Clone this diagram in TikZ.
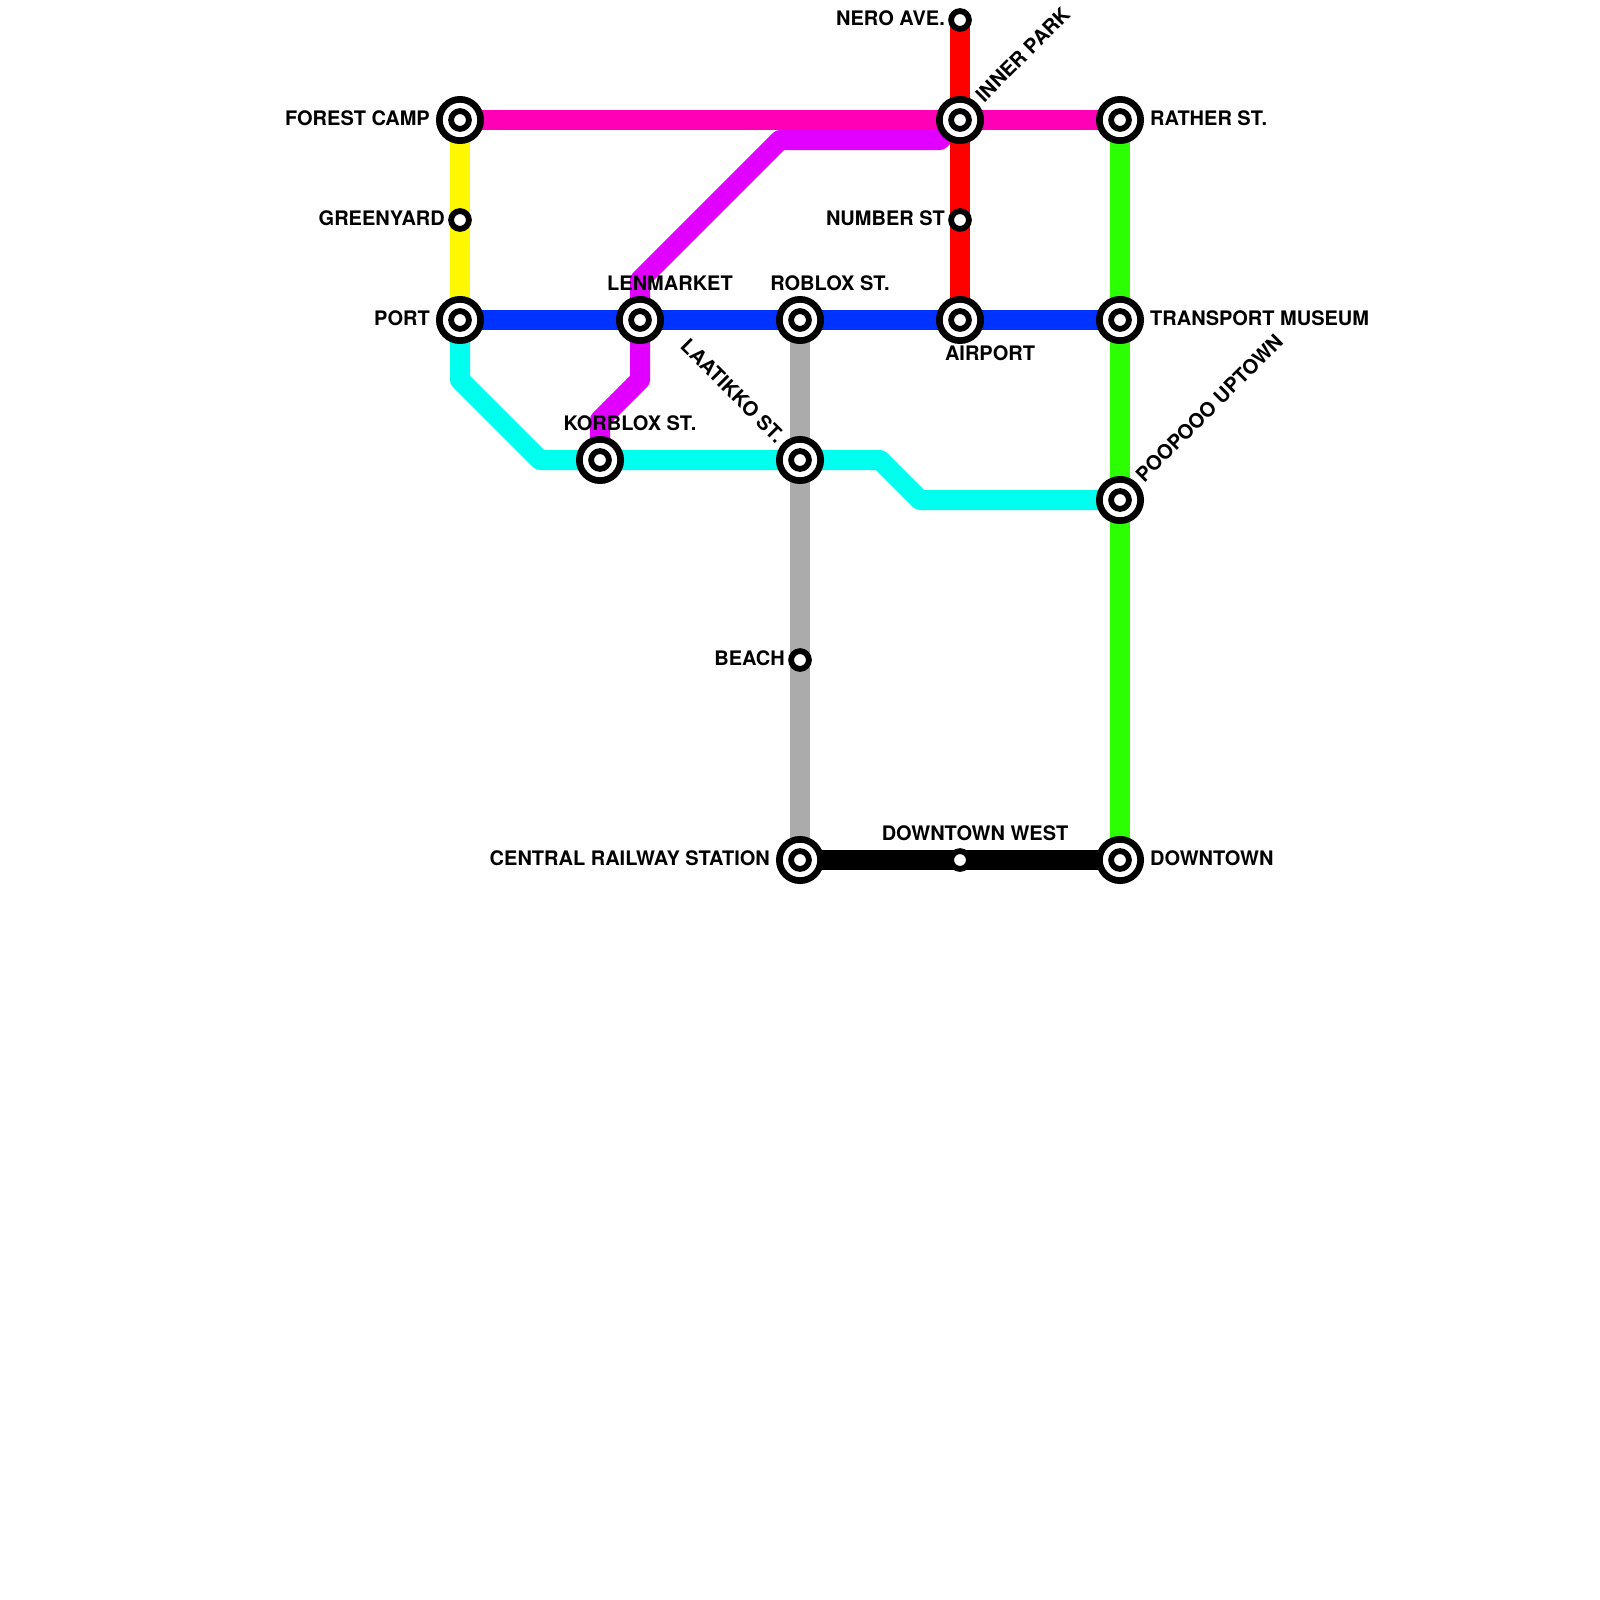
\documentclass[tikz,border=0pt]{standalone}
\usepackage{fontspec}
\setmainfont{TeX Gyre Heros}
\usetikzlibrary{backgrounds}
\definecolor{cpink}{RGB}{255,0,183}
\definecolor{cyellow}{RGB}{255,247,0}
\definecolor{cblue}{RGB}{0,51,255}
\definecolor{ccyan}{RGB}{0,255,238}
\definecolor{cmag}{RGB}{225,0,255}
\definecolor{cred}{RGB}{255,0,0}
\definecolor{cgrey}{RGB}{171,171,171}
\definecolor{cgreen}{RGB}{43,255,0}
\tikzset{
  ring/.style={circle,draw=black,fill=white,line width=6.7pt,minimum size=41.3pt,inner sep=0pt},
  hub/.style={circle,draw=black,fill=white,line width=5.8pt,minimum size=17.8pt,inner sep=0pt},
  rail/.style={line width=20pt,line join=round,line cap=butt},
  lbl/.style={font=\fontsize{20}{20}\selectfont\bfseries,inner sep=0pt,text=black},
}
\newcommand{\xchg}[2]{\node[ring] (#1) at (#2) {}; \node[hub] (#1i) at (#1.center) {};}
\begin{document}
\begin{tikzpicture}[x=1pt,y=-1pt]
\useasboundingbox (0,0) rectangle (1600,1600);
\xchg{fc}{460,120}
\xchg{ip}{960,120}
\xchg{rs}{1120,120}
\xchg{po}{460,320}
\xchg{le}{640,320}
\xchg{ro}{800,320}
\xchg{ai}{960,320}
\xchg{tm}{1120,320}
\xchg{ko}{600,460}
\xchg{la}{800,460}
\xchg{up}{1120,500}
\xchg{cr}{800,860}
\xchg{dt}{1120,860}
\node[hub] (ne) at (960,20) {};
\node[hub] (gy) at (460,220) {};
\node[hub] (nu) at (960,220) {};
\node[hub] (be) at (800,660) {};
\node[hub] (dw) at (960,860) {};
\node[lbl,anchor=east] (tfc) at (430,118) {FOREST CAMP};
\node[lbl,anchor=east] (tgy) at (445,218) {GREENYARD};
\node[lbl,anchor=east] (tpo) at (430,318) {PORT};
\node[lbl,anchor=east] (tne) at (945,18) {NERO AVE.};
\node[lbl,anchor=east] (tnu) at (945,218) {NUMBER ST};
\node[lbl,anchor=east] (tbe) at (785,658) {BEACH};
\node[lbl,anchor=east] (tcr) at (770,858) {CENTRAL RAILWAY STATION};
\node[lbl] (tle) at (670,283) {LENMARKET};
\node[lbl] (tro) at (830,283) {ROBLOX ST.};
\node[lbl] (tko) at (630,423) {KORBLOX ST.};
\node[lbl] (tai) at (990,353) {AIRPORT};
\node[lbl] (tdw) at (975,833) {DOWNTOWN WEST};
\node[lbl,anchor=west] (trs) at (1150,118) {RATHER ST.};
\node[lbl,anchor=west] (ttm) at (1150,318) {TRANSPORT MUSEUM};
\node[lbl,anchor=west] (tdt) at (1150,858) {DOWNTOWN};
\node[lbl,anchor=west,rotate=45] (tip) at (979,98) {INNER PARK};
\node[lbl,anchor=west,rotate=45] (tup) at (1139,478) {POOPOOO UPTOWN};
\node[lbl,anchor=east,rotate=-45] (tla) at (781,439) {LAATIKKO ST.};
\coordinate (c1) at (460,380);
\coordinate (c2) at (540,460);
\coordinate (c3) at (880,460);
\coordinate (c4) at (920,500);
\coordinate (m1) at (940,140);
\coordinate (m2) at (780,140);
\coordinate (m3) at (640,280);
\coordinate (m4) at (640,380);
\coordinate (m5) at (600,420);
\begin{scope}[on background layer]
\draw[rail,cmag] (ip.center) -- (m1) -- (m2) -- (m3) -- (le.center) -- (m4) -- (m5) -- (ko.center);
\draw[rail,cyellow] (fc.center) -- (gy.center) -- (po.center);
\draw[rail,cpink] (fc.center) -- (ip.center) -- (rs.center);
\draw[rail,cred] (ne.center) -- (ip.center) -- (nu.center) -- (ai.center);
\draw[rail,cgrey] (ro.center) -- (la.center) -- (be.center) -- (cr.center);
\draw[rail,cgreen] (rs.center) -- (tm.center) -- (up.center) -- (dt.center);
\draw[rail,cblue] (po.center) -- (le.center) -- (ro.center) -- (ai.center) -- (tm.center);
\draw[rail,ccyan] (po.center) -- (c1) -- (c2) -- (ko.center) -- (la.center) -- (c3) -- (c4) -- (up.center);
\draw[rail,black] (cr.center) -- (dw.center) -- (dt.center);
\end{scope}
\end{tikzpicture}
\end{document}
